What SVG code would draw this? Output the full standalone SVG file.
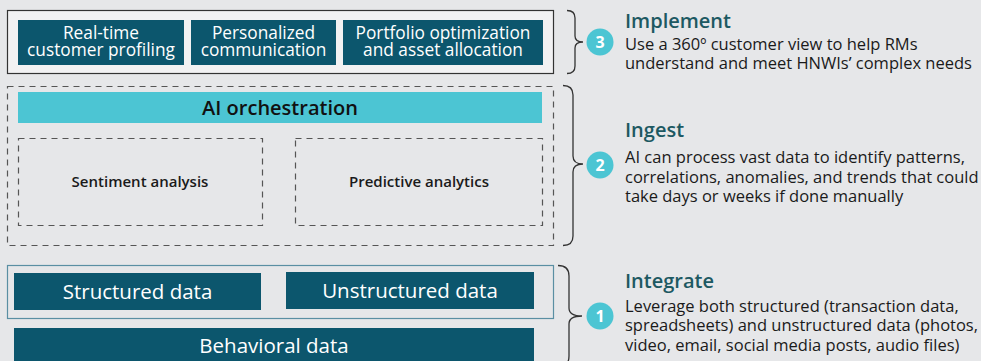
<svg xmlns="http://www.w3.org/2000/svg" width="981" height="361" viewBox="0 0 981 361">
<defs>
<style>
.bg{fill:#e6e7e9}
.dark{fill:#0c566d}
.wt{fill:#ffffff;font-family:"Open Sans","Noto Sans",sans-serif;text-anchor:middle}
.box2{font-size:17.3px}
.dash{fill:none;stroke:#555;stroke-width:1.2;stroke-dasharray:6 5}
.brace{fill:none;stroke:#333;stroke-width:1.3}
.num{fill:#4cc5d3}
.numt{fill:#fff;font-family:"Open Sans",sans-serif;font-weight:700;font-size:16px;text-anchor:middle}
.hd{fill:#1d5962;font-family:"Open Sans","Noto Sans",sans-serif;font-weight:600;font-size:20px}
.bd{fill:#1a1a1a;font-family:"Open Sans","Noto Sans",sans-serif;font-size:16.5px}
.lbl{fill:#1a1a1a;font-family:"Open Sans","Noto Sans",sans-serif;font-weight:600;font-size:15px;text-anchor:middle}
</style>
</defs>
<rect class="bg" x="0" y="0" width="981" height="361"/>

<g id="implement-layer">
<rect x="7.5" y="10.5" width="546" height="63" fill="#f2f2f3" stroke="#333" stroke-width="1.2"/>
<g id="node-realtime">
<rect class="dark" x="18" y="20" width="166" height="45"/>
<text class="wt box2" x="101" y="38.5">Real-time<tspan x="101" dy="17.5">customer profiling</tspan></text>
</g>
<g id="node-personalized">
<rect class="dark" x="191" y="20" width="145" height="45"/>
<text class="wt box2" x="263.5" y="38.5">Personalized<tspan x="263.5" dy="17.5">communication</tspan></text>
</g>
<g id="node-portfolio">
<rect class="dark" x="343" y="20" width="200" height="45"/>
<text class="wt box2" x="443" y="38.5">Portfolio optimization<tspan x="443" dy="17.5">and asset allocation</tspan></text>
</g>
</g>

<g id="ingest-layer">
<rect class="dash" x="7.5" y="86.5" width="546" height="159"/>
<g id="node-ai">
<rect x="18" y="92" width="524" height="31" fill="#4cc5d3"/>
<text x="280" y="115" font-family="Open Sans, Noto Sans, sans-serif" font-weight="600" font-size="20" fill="#111" text-anchor="middle">AI orchestration</text>
</g>
<g id="node-sentiment">
<rect class="dash" x="18.5" y="138.5" width="244" height="87"/>
<text class="lbl" x="140" y="187">Sentiment analysis</text>
</g>
<g id="node-predictive">
<rect class="dash" x="295.5" y="138.5" width="247" height="87"/>
<text class="lbl" x="419" y="187">Predictive analytics</text>
</g>
</g>

<g id="integrate-layer">
<rect x="7.5" y="265.5" width="546" height="53" fill="none" stroke="#5a8fa3" stroke-width="1.2"/>
<g id="node-structured">
<rect class="dark" x="14" y="273" width="247" height="37"/>
<text class="wt" font-size="20.5" font-weight="500" x="137.5" y="298.5">Structured data</text>
</g>
<g id="node-unstructured">
<rect class="dark" x="286" y="272" width="248" height="37"/>
<text class="wt" font-size="20.5" font-weight="500" x="410" y="297.5">Unstructured data</text>
</g>
<g id="node-behavioral">
<rect class="dark" x="14" y="328" width="520" height="40"/>
<text class="wt" font-size="20.5" x="274" y="353">Behavioral data</text>
</g>
</g>

<g id="connectors">
<path class="brace" d="M567,10.5 Q575,10.5 575,18 L575,36 Q575,42 583,42 Q575,42 575,48 L575,66 Q575,73.5 567,73.5"/>
<path class="brace" d="M563,85.5 Q573,85.5 573,95 L573,156 Q573,164 583,164 Q573,164 573,172 L573,236 Q573,245.5 563,245.5"/>
<path class="brace" d="M558,265.5 Q569,265.5 569,276 L569,308 Q569,316 582,316 Q569,316 569,324 L569,356 Q569,367 558,367"/>
</g>

<g id="step-3">
<circle class="num" cx="600" cy="42" r="13.5"/>
<text class="numt" x="600" y="47.5">3</text>
<text class="hd" x="625" y="28">Implement</text>
<text class="bd" x="625" y="50">Use a 360º customer view to help RMs<tspan x="625" dy="19">understand and meet HNWIs’ complex needs</tspan></text>
</g>
<g id="step-2">
<circle class="num" cx="600" cy="165" r="13.5"/>
<text class="numt" x="600" y="170.5">2</text>
<text class="hd" x="625" y="137">Ingest</text>
<text class="bd" x="625" y="163">AI can process vast data to identify patterns,<tspan x="625" dy="19.5">correlations, anomalies, and trends that could</tspan><tspan x="625" dy="19.5">take days or weeks if done manually</tspan></text>
</g>
<g id="step-1">
<circle class="num" cx="600" cy="316" r="13.5"/>
<text class="numt" x="600" y="321.5">1</text>
<text class="hd" x="625" y="288">Integrate</text>
<text class="bd" x="625" y="312">Leverage both structured (transaction data,<tspan x="625" dy="19.3">spreadsheets) and unstructured data (photos,</tspan><tspan x="625" dy="19.3">video, email, social media posts, audio files)</tspan></text>
</g>
</svg>
